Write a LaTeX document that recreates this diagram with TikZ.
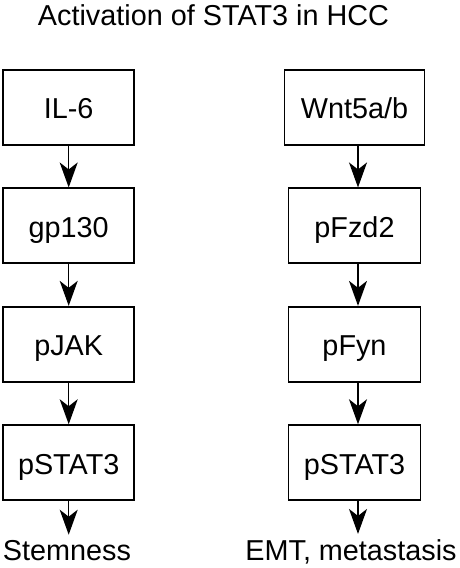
\documentclass[tikz,border=0pt]{standalone}
\usepackage{fontspec}
\setmainfont{Liberation Sans}
\usetikzlibrary{positioning,arrows.meta}

\begin{document}
\begin{tikzpicture}[
			x=1pt, y=1pt
			,font=\fontsize{28.8}{34}\selectfont
			,node distance=41.5pt
			,box/.style={draw, line width=1.9pt, minimum width=131pt, minimum height=75pt, inner sep=0pt, text height=22.6pt, text depth=0pt}
			,arr/.style={line width=1.5pt, -{Stealth[length=25pt, width=18pt, inset=7pt]}}
			,lbl/.style={anchor=base, inner sep=0pt}
		]
			\useasboundingbox (0,0) rectangle (460,-568);
			\node [lbl] (title) at (213.5,-25) {Activation of STAT3 in HCC};
			% IL-6 pathway
			\node [box] (il6) at (68.7,-107.5) {IL-6};
			\node [box, below=of il6] (gp130) {gp130};
			\node [box, below=of gp130] (pjak) {pJAK};
			\node [box, below=of pjak] (stat3a) {pSTAT3};
			\node [lbl] (stem) at (67,-560.5) {Stemness};
			% Wnt5a/b pathway
			\node [box, minimum width=140pt] (wnt) at (354.5,-107.5) {Wnt5a/b};
			\node [box, minimum width=132pt, below=of wnt] (fzd) {pFzd2};
			\node [box, minimum width=132pt, below=of fzd] (fyn) {pFyn};
			\node [box, minimum width=132pt, below=of fyn] (stat3b) {pSTAT3};
			\node [lbl] (emt) at (351,-560.5) {EMT, metastasis};
			\draw [arr] (il6.south) -- (gp130.north);
			\draw [arr] (gp130.south) -- (pjak.north);
			\draw [arr] (pjak.south) -- (stat3a.north);
			\draw [arr, shorten >=5.5pt] (stat3a.south) -- (stat3a.south |- stem.north);
			\draw [arr] ([xshift=3.5pt]wnt.south) -- ([xshift=3.5pt]fzd.north);
			\draw [arr] ([xshift=3.5pt]fzd.south) -- ([xshift=3.5pt]fyn.north);
			\draw [arr] ([xshift=3.5pt]fyn.south) -- ([xshift=3.5pt]stat3b.north);
			\draw [arr, shorten >=5.5pt] ([xshift=3.5pt]stat3b.south) -- ([xshift=3.5pt]stat3b.south |- emt.north);
		\end{tikzpicture}
\end{document}
